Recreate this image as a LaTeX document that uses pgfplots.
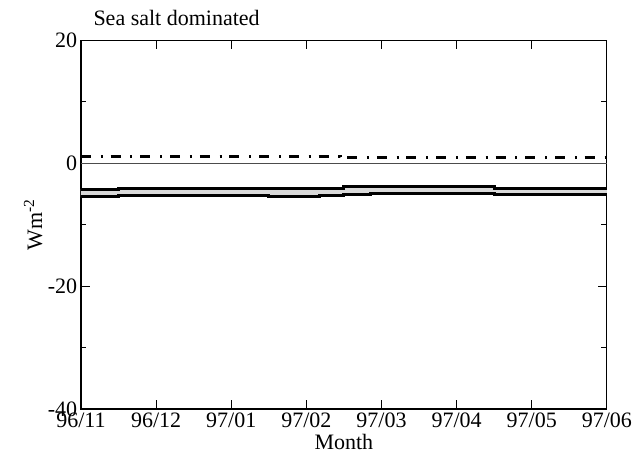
\documentclass[border=0pt]{standalone}
\usepackage{fontspec}
\setmainfont{Liberation Serif}
\usepackage{pgfplots}
\pgfplotsset{compat=1.18}
\usepgfplotslibrary{fillbetween}

\begin{document}
\begin{tikzpicture}
\begin{axis}[
  at={(0,0)}, anchor=south west,
  scale only axis,
  width=239pt, height=167.7pt,
  xmin=0, xmax=7, ymin=-40, ymax=20,
  xtick={0,1,2,3,4,5,6,7},
  xticklabels={96/11,96/12,97/01,97/02,97/03,97/04,97/05,97/06},
  ytick={-40,-20,0,20},
  yticklabels={-40,-20,0,20},
  minor ytick={-30,-10,10},
  tick align=inside,
  xtick pos=both, ytick pos=both,
  major tick length=4pt,
  minor tick length=2.5pt,
  tick style={black, line width=0.4pt},
  axis line style={line width=0.5pt},
  xlabel={Month},
  xlabel style={at={(rel axis cs:0.5,0)}, anchor=base, yshift=-18.2pt},
  xticklabel style={inner sep=1.5pt},
  yticklabel style={inner sep=1.5pt},
]
% zero line
\addplot[black!70, line width=0.5pt] coordinates {(0,0) (7,0)};

% upper / lower bounds of the sea-salt estimate
\addplot[name path=upper, const plot, black, line width=1.4pt] coordinates {
  (0,-4.25) (0.5,-4.1) (3.5,-3.85) (4.5,-3.8) (5.5,-4.1) (7,-4.1)};
\addplot[name path=lower, const plot, black, line width=1.4pt] coordinates {
  (0,-5.45) (0.5,-5.3) (2.5,-5.45) (3.17,-5.3) (3.5,-5.1) (3.85,-4.95) (5.5,-5.05) (7,-5.05)};
\addplot[gray!30] fill between[of=upper and lower];

% dash-dot series
\addplot[const plot, black, line width=1.3pt,
  dash pattern=on 4.5pt off 4.5pt on 0.9pt off 3.6pt] coordinates {
  (0,1.1) (3.45,0.9) (7,0.9)};
\end{axis}
\node[rotate=90, anchor=base, inner sep=0pt] at (-17.7pt,83.85pt) {Wm\textsuperscript{-2}};
\node[anchor=base west, inner sep=0pt] at (5.5pt,174.5pt) {Sea salt dominated};
\pgfresetboundingbox
\useasboundingbox (-36.8pt,-21.4pt) rectangle (252.7pt,185.9pt);
\end{tikzpicture}
\end{document}
